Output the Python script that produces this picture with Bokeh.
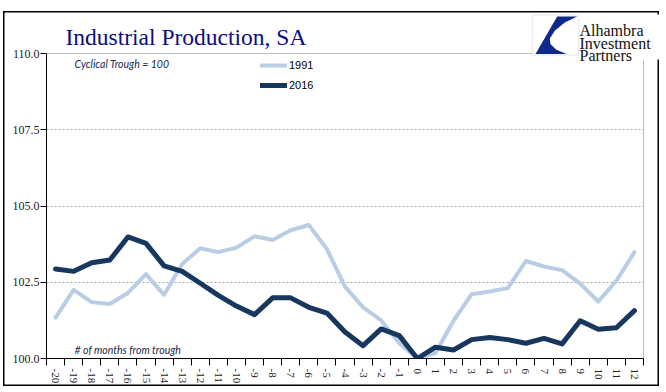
from bokeh.plotting import figure
from bokeh.models import (Range1d, FixedTicker, Label, BoxAnnotation,
                          PolyAnnotation, Legend, LegendItem, Grid)
from bokeh.embed import file_html
from bokeh.resources import INLINE

# ---------------- data ----------------
months = list(range(-20, 13))
month_labels = [str(m) for m in months]

ip_1991 = [101.34, 102.25, 101.85, 101.79, 102.15, 102.77, 102.09, 103.10,
           103.62, 103.49, 103.64, 104.01, 103.89, 104.21, 104.38, 103.59,
           102.36, 101.68, 101.25, 100.50, 100.00, 100.18, 101.24, 102.11,
           102.20, 102.31, 103.20, 103.02, 102.90, 102.46, 101.87, 102.55,
           103.49]
ip_2016 = [102.94, 102.86, 103.14, 103.23, 103.99, 103.78, 103.04, 102.86,
           102.47, 102.07, 101.72, 101.44, 101.99, 101.99, 101.68, 101.49,
           100.87, 100.42, 100.97, 100.75, 100.00, 100.37, 100.28, 100.62,
           100.69, 100.62, 100.50, 100.66, 100.48, 101.24, 100.96, 101.01,
           101.57]

y_ticks = [100.0, 102.5, 105.0, 107.5, 110.0]
y_tick_labels = ["100.0", "102.5", "105.0", "107.5", "110.0"]
series_names = ["1991", "2016"]

title_text = "Industrial Production, SA"
note_top = "Cyclical Trough = 100"
note_bottom = "# of months from trough"
logo_lines = ["Alhambra", "Investment", "Partners"]

LIGHT = "#b9cde5"
DARK = "#17375e"
SERIF = "Liberation Serif"

# ---------------- layout geometry (pixels) ----------------
W, H = 666, 392
FRAME_L = 46            # left edge of plotting frame
AX_RIGHT_PX = 643       # where the x axis (12.5) ends
Y100_PX, Y110_PX = 358, 53.3
X0, X1 = months[0] - 0.5, months[-1] + 0.5
Y0, Y1 = y_ticks[0], y_ticks[-1]
x_end = X0 + (W - FRAME_L) * (X1 - X0) / (AX_RIGHT_PX - FRAME_L)
y_end = Y0 + Y100_PX * (Y1 - Y0) / (Y100_PX - Y110_PX)

p = figure(width=W, height=H, output_backend="svg", toolbar_location=None,
           x_range=Range1d(X0, x_end), y_range=Range1d(Y0, y_end),
           min_border_left=FRAME_L, min_border_right=0,
           min_border_top=0, min_border_bottom=H - Y100_PX)
p.title.visible = False
p.background_fill_color = None
p.border_fill_color = None
p.outline_line_color = None
# outer black frame of the chart, drawn with CSS behind the transparent canvas
p.styles = {
    "background-color": "white",
    "box-shadow": ("inset 3px 0 0 white, inset 0 11px 0 white, "
                   "inset -7px 0 0 white, inset 0 -6px 0 white, "
                   "inset 4.5px 0 0 black, inset 0 12.5px 0 black, "
                   "inset -8.5px 0 0 black, inset 0 -7.5px 0 black"),
}

r1 = p.line(months, ip_1991, line_width=4, line_color=LIGHT,
            line_join="round", line_cap="round")
r2 = p.line(months, ip_2016, line_width=5, line_color=DARK,
            line_join="round", line_cap="round")

# x axis
xa = p.xaxis[0]
xa.bounds = (X0, X1)
xa.ticker = FixedTicker(ticks=months,
                        minor_ticks=[m - 0.5 for m in months] + [X1])
xa.major_label_overrides = {m: lab for m, lab in zip(months, month_labels)}
xa.major_tick_line_color = None
xa.major_tick_out = 0
xa.major_tick_in = 0
xa.minor_tick_line_color = "black"
xa.minor_tick_out = 7
xa.minor_tick_in = 0
xa.axis_line_color = "black"
xa.major_label_orientation = "vertical"
xa.major_label_standoff = 3
xa.major_label_text_font = SERIF
xa.major_label_text_font_size = "11px"
xa.major_label_text_color = "#222222"

# y axis
ya = p.yaxis[0]
ya.bounds = (Y0, Y1)
ya.ticker = FixedTicker(ticks=y_ticks)
ya.major_label_overrides = {t: lab for t, lab in zip(y_ticks, y_tick_labels)}
ya.minor_tick_line_color = None
ya.major_tick_in = 0
ya.major_tick_out = 6
ya.major_tick_line_color = "black"
ya.axis_line_color = "black"
ya.major_label_standoff = 1
ya.major_label_text_font = SERIF
ya.major_label_text_font_size = "12px"
ya.major_label_text_color = "#222222"

# grids
p.xgrid.visible = False
p.ygrid.ticker = FixedTicker(ticks=y_ticks[1:-1])
p.ygrid.cross_bounds = (X0, X1)
p.ygrid.grid_line_color = "#a6a6a6"
p.ygrid.grid_line_dash = "2 2"
p.ygrid.grid_line_width = 1
# plot-area border (top and right, light grey)
p.add_layout(Grid(dimension=1, ticker=FixedTicker(ticks=[Y1]), cross_bounds=(X0, X1),
                  grid_line_color="#bfbfbf", grid_line_width=1.2))
p.add_layout(Grid(dimension=0, ticker=FixedTicker(ticks=[X1]), cross_bounds=(Y0, Y1),
                  grid_line_color="#bfbfbf", grid_line_width=1.2))

# legend
legend = Legend(items=[LegendItem(label=series_names[0], renderers=[r1]),
                       LegendItem(label=series_names[1], renderers=[r2])],
                location=(214, 263), padding=0, margin=0, spacing=0,
                glyph_width=27, glyph_height=20, label_height=20,
                label_standoff=2, border_line_color=None,
                background_fill_alpha=0,
                label_text_font="Liberation Sans", label_text_font_size="11px",
                label_text_color="black")
p.add_layout(legend, "center")

# notes
p.add_layout(Label(x=74, y=63, x_units="canvas", y_units="canvas",
                   text=note_top, text_font="Lato", text_font_style="italic",
                   text_font_size="10.5px", text_color="#1b2a49",
                   text_baseline="middle"))
p.add_layout(Label(x=74, y=349, x_units="canvas", y_units="canvas",
                   text=note_bottom, text_font="Lato", text_font_style="italic",
                   text_font_size="10.5px", text_color="#1b2a49",
                   text_baseline="middle"))

# title
p.add_layout(Label(x=65, y=36.5, x_units="canvas", y_units="canvas",
                   text=title_text, text_font=SERIF, text_font_size="23.5px",
                   text_color="#0c0c84", text_baseline="alphabetic"))

# logo: white background, framed box with blue swoosh, company name
p.add_layout(BoxAnnotation(left=578, right=662, top=14, bottom=59,
                           left_units="canvas", right_units="canvas",
                           top_units="canvas", bottom_units="canvas",
                           fill_color="white", fill_alpha=1, line_color=None))
p.add_layout(BoxAnnotation(left=532, right=578, top=14.5, bottom=54.5,
                           left_units="canvas", right_units="canvas",
                           top_units="canvas", bottom_units="canvas",
                           fill_color="white", fill_alpha=1,
                           line_color="#c4c4c4", line_width=1.5))
p.add_layout(PolyAnnotation(xs=[556.7, 576.7, 564.3, 554.3, 549.3, 550, 556, 566, 535],
                            ys=[16, 16, 22, 30.3, 38, 43.7, 49.3, 53.5, 53.5],
                            xs_units="canvas", ys_units="canvas",
                            fill_color="#0f2a8a", fill_alpha=1, line_color=None))
for txt, by in zip(logo_lines, [30, 43.3, 54.5]):
    p.add_layout(Label(x=579, y=by, x_units="canvas", y_units="canvas",
                       text=txt, text_font=SERIF, text_font_size="16px",
                       text_color="#111111", text_baseline="alphabetic"))

open("out.html", "w").write(file_html(p, INLINE))
